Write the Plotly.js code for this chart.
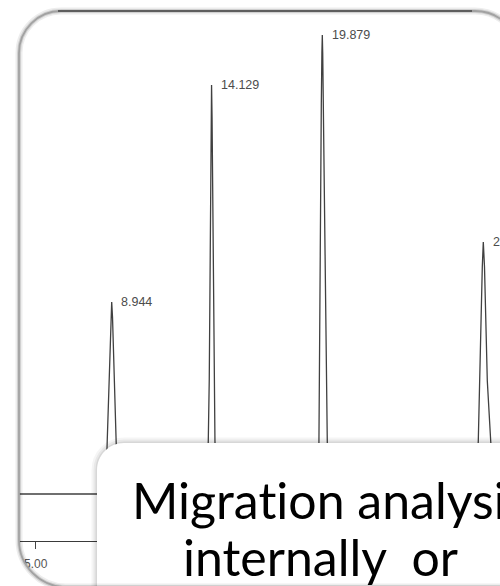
<!DOCTYPE html>
<html><head><meta charset="utf-8">
<script src="https://cdn.plot.ly/plotly-3.0.1.min.js"></script>
<style>html,body{margin:0;padding:0;background:#fff;overflow:hidden}#chart{width:500px;height:586px}text{font-variant-ligatures:none;font-feature-settings:"liga" 0,"clig" 0}</style>
</head><body><div id="chart"></div>
<script>
// Detector trace (minutes, signal units)
const traceTime = [4.0,
  8.633, 8.710, 8.809, 8.851, 8.902, 8.944, 8.986, 9.037, 9.069, 9.162, 9.255,
  13.869, 13.958, 14.010, 14.046, 14.077, 14.103, 14.129, 14.155, 14.181, 14.212, 14.254, 14.305, 14.389,
  19.645, 19.703, 19.723, 19.765, 19.827, 19.858, 19.879, 19.900, 19.931, 19.972, 20.071, 20.139, 20.216,
  27.823, 27.978, 28.067, 28.124, 28.186, 28.238, 28.300, 28.373, 28.446, 28.622, 28.809,
  29.5];
const traceSignal = [0,
  0, 5.2, 10.6, 14.4, 17.7, 19.2, 17.7, 14.4, 10.6, 5.2, 0,
  0, 5.3, 11.5, 20.5, 30.7, 37.6, 40.9, 37.6, 30.7, 20.5, 11.5, 5.3, 0,
  0, 5.0, 11.5, 29.4, 39.0, 44.1, 45.9, 44.1, 39.0, 29.4, 11.5, 5.0, 0,
  0, 5.3, 11.3, 17.6, 22.7, 25.2, 22.7, 17.6, 11.3, 5.3, 0,
  0];
const retentionTimes = [8.944, 14.129, 19.879, 28.238];
const peakHeights = [19.2, 40.9, 45.9, 25.2];
const peakLabels = ['8.944', '14.129', '19.879', '28.238'];
// only the first tick is visible; the rest lie under the note box
const xTickValues = [5];
const xTickLabels = ['5.00'];
const noteLines = ['Migration analysis', 'internally\u00a0 or'];

const W = 500, H = 586, K = 0.5523;
function P(x, y) { return (x / W).toFixed(5) + ',' + (1 - y / H).toFixed(5); }

const framePath =
  'M' + P(19, 53) + ' C' + P(19, 53 - 42 * K) + ' ' + P(61 - 42 * K, 11) + ' ' + P(61, 11) +
  ' L' + P(475, 11) + ' C' + P(475 + 45 * K, 11) + ' ' + P(520, 56 - 45 * K) + ' ' + P(520, 56) +
  ' L' + P(520, 587) + ' L' + P(66, 587) +
  ' C' + P(66 - 47 * K, 587) + ' ' + P(19, 540 + 47 * K) + ' ' + P(19, 540) + ' Z';
const maskPath = 'M' + P(-20, -20) + ' L' + P(-20, 620) + ' L' + P(540, 620) + ' L' + P(540, -20) + ' Z ' + framePath;
const boxOutline = 'M' + P(97, 700) + ' L' + P(97, 470) + ' C' + P(97, 470 - 27 * K) + ' ' + P(124 - 27 * K, 443) + ' ' + P(124, 443) + ' L' + P(600, 443);
const boxFill = boxOutline + ' L' + P(600, 700) + ' Z';

function sh(path, extra) {
  return Object.assign({type: 'path', xref: 'paper', yref: 'paper', layer: 'above', path: path,
    fillcolor: 'rgba(0,0,0,0)', line: {width: 0}}, extra);
}

const shapes = [
  sh(boxOutline, {line: {color: 'rgba(0,0,0,0.04)', width: 11}}),
  sh(boxOutline, {line: {color: 'rgba(0,0,0,0.05)', width: 7}}),
  sh(boxOutline, {line: {color: 'rgba(0,0,0,0.07)', width: 3}}),
  sh(boxFill, {fillcolor: '#ffffff'}),
  sh(maskPath, {fillcolor: '#ffffff'}),
  sh(framePath, {line: {color: 'rgba(0,0,0,0.07)', width: 7}}),
  sh(framePath, {line: {color: 'rgba(0,0,0,0.12)', width: 4}}),
  sh(framePath, {line: {color: '#a2a2a2', width: 1.8}}),
  sh('M' + P(58, 11) + ' L' + P(472, 11), {line: {color: '#5e5e5e', width: 2.2}})
];

const annotations = retentionTimes.map((t, i) => ({
  x: t, y: peakHeights[i], xref: 'x', yref: 'y', text: peakLabels[i], showarrow: false,
  xanchor: 'left', yanchor: 'middle', xshift: 7.5, yshift: 0,
  font: {family: 'Liberation Sans, Arial, sans-serif', size: 12.5, color: '#4c4c4c'}
}));
annotations.push({x: 329 / W, y: 1 - 500 / H, xref: 'paper', yref: 'paper', text: noteLines[0],
  showarrow: false, xanchor: 'center', yanchor: 'middle',
  font: {family: 'Lato, sans-serif', size: 50, color: '#000'}});
annotations.push({x: 320 / W, y: 1 - 557 / H, xref: 'paper', yref: 'paper', text: noteLines[1],
  showarrow: false, xanchor: 'center', yanchor: 'middle',
  font: {family: 'Lato, sans-serif', size: 50, color: '#000'}});

const data = [{
  type: 'scatter', mode: 'lines', x: traceTime, y: traceSignal,
  line: {color: '#404040', width: 1.3}, hoverinfo: 'skip'
}];

const layout = {
  width: W, height: H, margin: {l: 0, r: 0, t: 0, b: 0, pad: 0},
  paper_bgcolor: '#ffffff', plot_bgcolor: '#ffffff', showlegend: false,
  xaxis: {domain: [19 / W, 1], range: [4.131, 29.105], tickmode: 'array', tickvals: xTickValues, ticktext: xTickLabels,
    ticks: 'outside', ticklen: 7, tickwidth: 1.2, tickcolor: '#444', showline: true, linecolor: '#3a3a3a', linewidth: 1.4,
    showgrid: false, zeroline: false, automargin: false, fixedrange: true, ticklabelstandoff: 4,
    tickfont: {family: 'Liberation Sans, Arial, sans-serif', size: 12, color: '#555'}},
  yaxis: {domain: [45 / H, 1], range: [-4.7, 49.4], visible: false, fixedrange: true, automargin: false},
  shapes: shapes, annotations: annotations
};

Plotly.newPlot('chart', data, layout, {staticPlot: true, displayModeBar: false});
</script></body></html>
